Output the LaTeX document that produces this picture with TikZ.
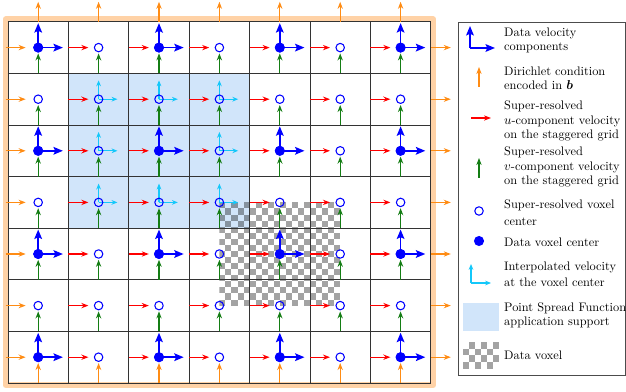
\documentclass[tikz,border=0pt]{standalone}
\usepackage{amsmath}
\usetikzlibrary{arrows.meta}
\definecolor{psfblue}{RGB}{209,229,250}
\definecolor{dirorange}{RGB}{255,140,20}
\definecolor{vgreen}{RGB}{20,125,20}
\definecolor{interpcyan}{RGB}{20,200,250}

\begin{document}
\begin{tikzpicture}[x=0.85pt, y=0.85pt]
% Staggered super-resolution grid with data voxels
\def\cellw{51.34pt}
\def\cellh{43.86pt}
\def\arlen{17pt}
\providecommand{\gridLineColor}{black!80}
\providecommand{\frameColor}{orange!35}
\providecommand{\gridLineWidth}{0.6pt}
\useasboundingbox (0,0) rectangle (626,392);
\begin{scope}[xshift=6.8pt, yshift=7.65pt, x=\cellw, y=\cellh, line join=round]
  % Point Spread Function support
  \fill[psfblue] (1,3) rectangle (4,6);
  % Data voxel as a checkerboard
  \begin{scope}
    \clip (3.5,1.5) rectangle (5.5,3.5);
    \foreach \i in {0,...,19}
      \foreach \j in {0,...,8}
        \fill[black, fill opacity=0.36] ({3.5+\i/10},{1.5+(2*\j+mod(\i,2))*2/17}) rectangle ++(0.1,2/17);
  \end{scope}
  % Outer frame
  \draw[\frameColor, line width=5.1pt] ([xshift=-2pt,yshift=-2pt]0,0) rectangle ([xshift=2pt,yshift=2pt]7,7);
  % Vertical lines
  \begin{scope}[draw=\gridLineColor, line width=\gridLineWidth]
    \draw (0,0) -- (0,7);
    \draw (1,0) -- (1,7);
    \draw (2,0) -- (2,7);
    \draw (3,0) -- (3,7);
    \draw (4,0) -- (4,7);
    \draw (5,0) -- (5,7);
    \draw (6,0) -- (6,7);
    \draw (7,0) -- (7,7);
  \end{scope}
  % Horizontal lines
  \begin{scope}[draw=\gridLineColor, line width=\gridLineWidth]
    \draw (0,0) -- (7,0);
    \draw (0,1) -- (7,1);
    \draw (0,2) -- (7,2);
    \draw (0,3) -- (7,3);
    \draw (0,4) -- (7,4);
    \draw (0,5) -- (7,5);
    \draw (0,6) -- (7,6);
    \draw (0,7) -- (7,7);
  \end{scope}
  % u-components on the inner vertical faces
  \begin{scope}[draw=red, line width=0.9pt, -{Stealth[length=6pt,width=4.5pt]}]
    \foreach \i in {1,...,6}
      \foreach \j in {0,...,6}
        \draw (\i,\j+0.5) -- ++(\arlen,0);
  \end{scope}
  % v-components on the inner horizontal faces
  \begin{scope}[draw=vgreen, line width=0.9pt, -{Stealth[length=6pt,width=4.5pt]}]
    \foreach \i in {0,...,6}
      \foreach \j in {1,...,6}
        \draw (\i+0.5,\j) -- ++(0,\arlen);
  \end{scope}
  % Dirichlet condition on the boundary faces
  \begin{scope}[draw=dirorange, line width=0.9pt, -{Stealth[length=6pt,width=4.5pt]}]
    \foreach \k in {0,...,6} {
      \draw ([xshift=-2pt]0,\k+0.5) -- ++(\arlen,0);
      \draw (7,\k+0.5) -- ++(\arlen,0);
      \draw (\k+0.5,0) -- ++(0,\arlen);
      \draw (\k+0.5,7) -- ++(0,\arlen);
    }
  \end{scope}
  % Interpolated velocity inside the PSF support
  \begin{scope}[draw=interpcyan, line width=0.9pt, -{Stealth[length=5pt,width=4pt]}]
    \foreach \i/\j in {1/3,2/3,3/3,1/4,3/4,1/5,2/5,3/5} {
      \draw (\i+0.5,\j+0.5) -- ++(0,16pt);
      \draw (\i+0.5,\j+0.5) -- ++(16pt,0);
    }
  \end{scope}
  % Data velocity components
  \begin{scope}[draw=blue, line width=1.5pt, -{Stealth[length=8pt,width=6.5pt,inset=1.5pt]}]
    \foreach \i in {0,2,4,6}
      \foreach \j in {0,2,4,6} {
        \draw (\i+0.5,\j+0.5) -- ++(0,20.8pt);
        \draw (\i+0.5,\j+0.5) -- ++(21pt,0);
      }
  \end{scope}
  % Voxel centers
  \foreach \i in {0,...,6}
    \foreach \j in {0,...,6}
      \draw[blue, line width=0.9pt] (\i+0.5,\j+0.5) circle[radius=3.6pt];
  \foreach \i in {0,2,4,6}
    \foreach \j in {0,2,4,6}
      \fill[blue] (\i+0.5,\j+0.5) circle[radius=4.3pt];
\end{scope}
% Legend
\draw[black!70, line width=0.8pt] (458,17) rectangle (625,370);
\begin{scope}[every node/.style={anchor=west, align=left, inner sep=0pt, font=\fontsize{10.5}{12}\selectfont}]
  \draw[blue, line width=1.5pt, -{Stealth[length=8pt,width=6.5pt,inset=1.5pt]}] (470,344) -- (470,366);
  \draw[blue, line width=1.5pt, -{Stealth[length=8pt,width=6.5pt,inset=1.5pt]}] (470,344) -- (495,344);
  \node (legdata) at (504,352) {Data velocity\\components};
  \draw[dirorange, line width=0.9pt, -{Stealth[length=6pt,width=4.5pt]}] (479,305) -- (479,325);
  \node (legdir) at (504,314) {Dirichlet condition\\encoded in $\boldsymbol{b}$};
  \draw[red, line width=0.9pt, -{Stealth[length=6pt,width=4.5pt]}] (471,274) -- (491,274);
  \node (legu) at (504,271) {Super-resolved\\$u$-component velocity\\on the staggered grid};
  \draw[vgreen, line width=0.9pt, -{Stealth[length=6pt,width=4.5pt]}] (479,214) -- (479,234);
  \node (legv) at (504,225) {Super-resolved\\$v$-component velocity\\on the staggered grid};
  \draw[blue, line width=0.9pt] (479,181) circle[radius=3.6pt];
  \node (legsr) at (504,179.5) {Super-resolved voxel\\[2pt]center};
  \fill[blue] (479,151) circle[radius=4.3pt];
  \node (legdv) at (504,150) {Data voxel center};
  \draw[interpcyan, line width=0.9pt, -{Stealth[length=5pt,width=4pt]}] (471,109) -- (471,128);
  \draw[interpcyan, line width=0.9pt, -{Stealth[length=5pt,width=4pt]}] (471,109) -- (491,109);
  \node (leginterp) at (504,117.5) {Interpolated velocity\\[2pt]at the voxel center};
  \fill[psfblue] (463,61) rectangle (499,89);
  \node (legpsf) at (504,76.5) {Point Spread Function\\application support};
  \begin{scope}
    \clip (463,23) rectangle (499,50);
    \foreach \i in {0,...,5}
      \foreach \j in {0,1}
        \fill[black, fill opacity=0.36] ({463+6*\i},{23+(2*\j+mod(\i,2))*6.75}) rectangle ++(6,6.75);
  \end{scope}
  \node (legvox) at (504,37) {Data voxel};
\end{scope}
\end{tikzpicture}
\end{document}
